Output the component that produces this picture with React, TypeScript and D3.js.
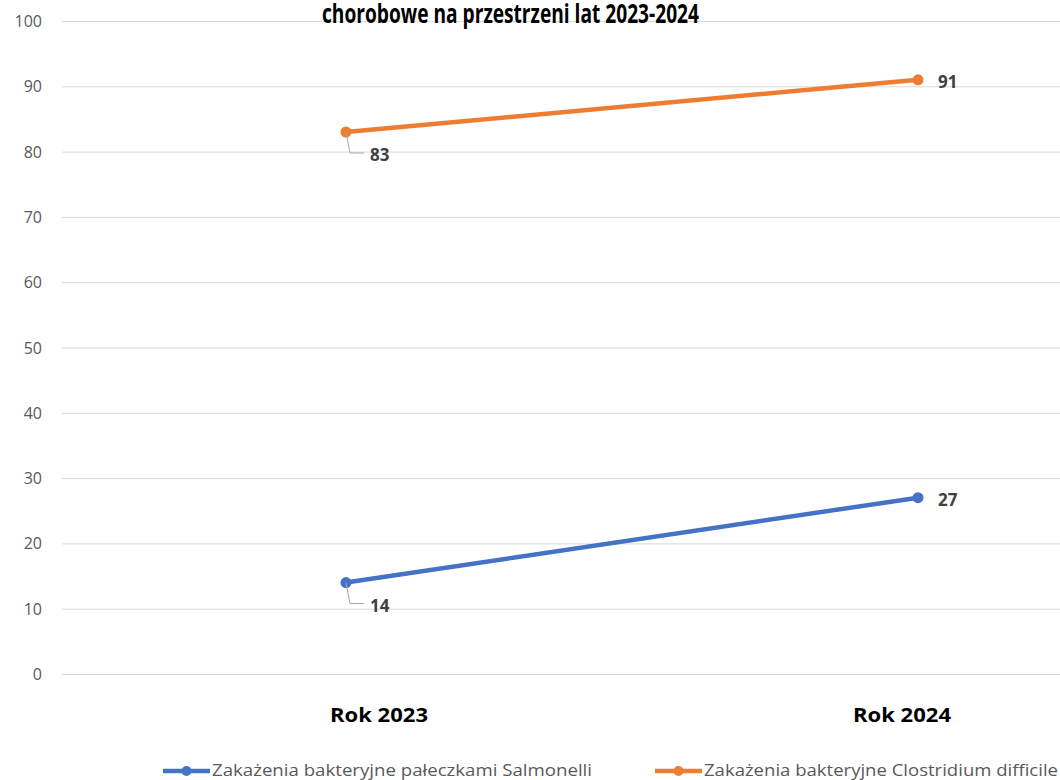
import React, { useRef, useEffect } from "react";
import * as d3 from "d3";

const categories = ["Rok 2023", "Rok 2024"];
const salmonella = [14, 27];
const clostridium = [83, 91];
const yTicks = [0, 10, 20, 30, 40, 50, 60, 70, 80, 90, 100];
const seriesNames = [
  "Zakażenia bakteryjne pałeczkami Salmonelli",
  "Zakażenia bakteryjne Clostridium difficile",
];
const titleLine = "chorobowe na przestrzeni lat 2023-2024";

const App: React.FC = () => {
  const svgRef = useRef<SVGSVGElement | null>(null);

  useEffect(() => {
    if (!svgRef.current) return;
    const svg = d3.select(svgRef.current);
    svg.selectAll("*").remove();

    const width = 1060;
    const height = 780;
    const left = 62;
    const plotRight = 1204; // plot area runs past the cropped edge
    const font = "'Open Sans', 'DejaVu Sans', sans-serif";

    const x = d3.scaleBand<string>().domain(categories).range([left - 2, plotRight]);
    const cx = (c: string) => (x(c) || 0) + x.bandwidth() / 2;
    // category labels sit a bit apart from the points in the source
    const xLabel = d3.scalePoint<string>().domain(categories).range([379, 902]);
    const y = d3.scaleLinear().domain([0, 100]).range([674, 21]);

    svg.append("rect").attr("width", width).attr("height", height).attr("fill", "#fff");

    // gridlines
    svg
      .append("g")
      .selectAll("line")
      .data(yTicks)
      .enter()
      .append("line")
      .attr("x1", left)
      .attr("x2", width)
      .attr("y1", (d) => y(d) + 0.5)
      .attr("y2", (d) => y(d) + 0.5)
      .attr("stroke", "#d9d9d9")
      .attr("stroke-width", 1);

    // y tick labels
    svg
      .append("g")
      .selectAll("text")
      .data(yTicks)
      .enter()
      .append("text")
      .attr("x", 42)
      .attr("y", (d) => y(d) + 6)
      .attr("text-anchor", "end")
      .style("font-family", font)
      .style("font-size", "16px")
      .style("fill", "#595959")
      .text((d) => d);

    // title (second line visible)
    svg
      .append("text")
      .attr("x", 322)
      .attr("y", 23)
      .attr("textLength", 377)
      .attr("lengthAdjust", "spacingAndGlyphs")
      .style("font-family", font)
      .style("font-weight", "bold")
      .style("font-size", "27px")
      .style("fill", "#000")
      .text(titleLine);

    // category labels
    svg
      .append("g")
      .selectAll("text")
      .data(categories)
      .enter()
      .append("text")
      .attr("x", (d) => xLabel(d) || 0)
      .attr("y", 722)
      .attr("text-anchor", "middle")
      .attr("textLength", 98)
      .attr("lengthAdjust", "spacingAndGlyphs")
      .style("font-family", font)
      .style("font-weight", "bold")
      .style("font-size", "20px")
      .style("fill", "#000")
      .text((d) => d);

    const series = [
      { name: seriesNames[0], values: salmonella, color: "#4472C4" },
      { name: seriesNames[1], values: clostridium, color: "#ED7D31" },
    ];

    const line = d3
      .line<number>()
      .x((_, i) => cx(categories[i]))
      .y((d) => y(d));

    series.forEach((s) => {
      svg
        .append("path")
        .datum(s.values)
        .attr("d", line)
        .attr("fill", "none")
        .attr("stroke", s.color)
        .attr("stroke-width", 4.5)
        .attr("stroke-linecap", "round");

      svg
        .append("g")
        .selectAll("circle")
        .data(s.values)
        .enter()
        .append("circle")
        .attr("cx", (_, i) => cx(categories[i]))
        .attr("cy", (d) => y(d))
        .attr("r", 5.5)
        .attr("fill", s.color);

      // first point: label below-right with leader line
      const v0 = s.values[0];
      const px0 = cx(categories[0]);
      const py0 = y(v0);
      svg
        .append("path")
        .attr("d", `M${px0},${py0} L${px0 + 4},${py0 + 21} L${px0 + 18},${py0 + 21}`)
        .attr("fill", "none")
        .attr("stroke", "#a6a6a6")
        .attr("stroke-width", 1);
      svg
        .append("text")
        .attr("x", px0 + 24)
        .attr("y", py0 + 29)
        .style("font-family", font)
        .style("font-weight", "bold")
        .style("font-size", "17px")
        .style("fill", "#404040")
        .text(v0);

      // second point: label to the right
      const v1 = s.values[1];
      svg
        .append("text")
        .attr("x", cx(categories[1]) + 20)
        .attr("y", y(v1) + 8)
        .style("font-family", font)
        .style("font-weight", "bold")
        .style("font-size", "17px")
        .style("fill", "#404040")
        .text(v1);
    });

    // legend
    const legendX = [163, 655];
    const legendLen = [380, 354];
    series.forEach((s, i) => {
      const g = svg.append("g").attr("transform", `translate(${legendX[i]},771)`);
      g.append("line")
        .attr("x1", 0)
        .attr("x2", 47)
        .attr("y1", 0)
        .attr("y2", 0)
        .attr("stroke", s.color)
        .attr("stroke-width", 4.5);
      g.append("circle").attr("cx", 23.5).attr("cy", 0).attr("r", 5).attr("fill", s.color);
      g.append("text")
        .attr("x", 49)
        .attr("y", 5)
        .attr("textLength", legendLen[i])
        .attr("lengthAdjust", "spacingAndGlyphs")
        .style("font-family", font)
        .style("font-size", "16px")
        .style("fill", "#595959")
        .text(s.name);
    });
  }, []);

  return (
    <svg
      ref={svgRef}
      width={1060}
      height={780}
      style={{ position: "absolute", left: 0, top: 0, display: "block" }}
    />
  );
};

export default App;
